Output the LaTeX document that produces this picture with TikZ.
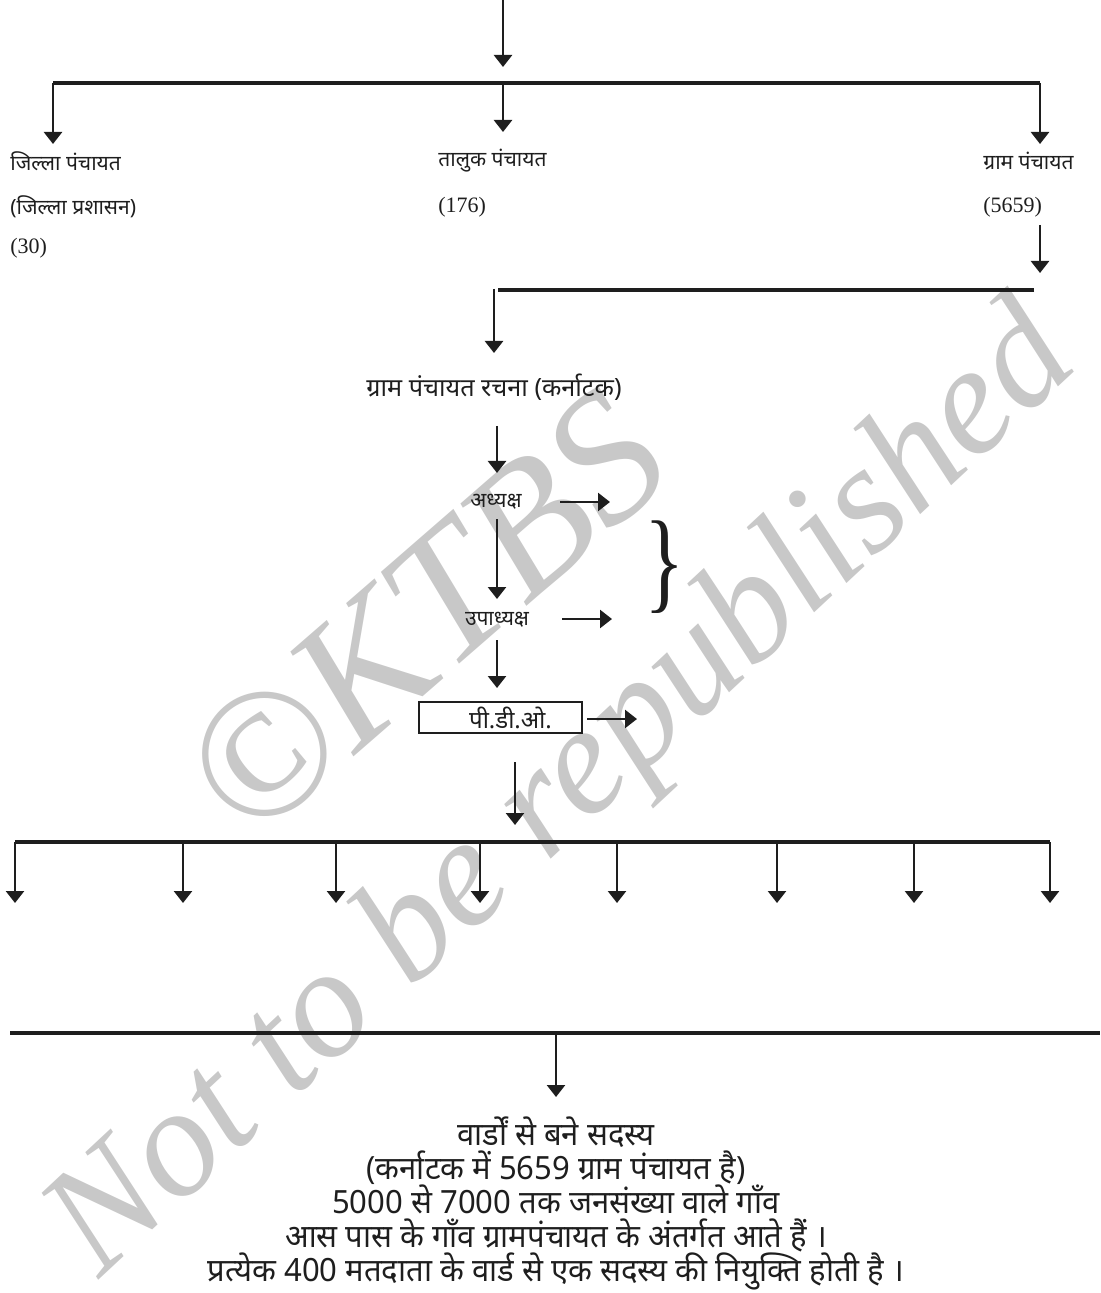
\documentclass[tikz,border=0pt]{standalone}
\usepackage{fontspec}
\setmainfont{Liberation Serif}
\newfontfamily\dev[Script=Devanagari]{Noto Sans}
\newfontfamily\devc[Script=Devanagari,FakeStretch=0.97]{Noto Sans}
\newfontfamily\wmfont{Liberation Serif}
\usetikzlibrary{arrows.meta}
\definecolor{wm}{RGB}{200,200,200}
\definecolor{ink}{RGB}{30,30,30}
\begin{document}
\begin{tikzpicture}[x=0.5pt,y=-0.5pt,
  ln/.style={line width=1.3pt,draw=ink},
  bar/.style={line width=1.6pt,draw=ink},
  arr/.style={ln,-{Triangle[length=6pt,width=9pt]}},
  lbl/.style={font=\dev\fontsize{10.5}{12}\selectfont,inner sep=0pt,text=ink},
  num/.style={font=\fontsize{11}{12}\selectfont,inner sep=0pt,text=ink},
  body/.style={font=\devc\fontsize{16}{17}\selectfont,inner sep=0pt,align=center,text=ink}]
\useasboundingbox (0,0) rectangle (1100,1293);
% watermark
\node[text=wm,font=\wmfont\itshape\fontsize{92}{92}\selectfont,rotate=41,inner sep=0pt] (wm1) at (425,615) {©KTBS};
\node[text=wm,font=\wmfont\itshape\fontsize{78}{78}\selectfont,rotate=43,inner sep=0pt] (wm2) at (565,795) {Not to be republished};
% top level
\coordinate (t0) at (503,0);
\coordinate (t1) at (503,67);
\draw[arr] (t0) -- (t1);
\coordinate (bl) at (53,83);
\coordinate (bm) at (503,83);
\coordinate (br) at (1040,83);
\draw[bar] (bl) -- (br);
\coordinate (al) at (53,144);
\coordinate (am) at (503,132);
\coordinate (ar) at (1040,144);
\draw[arr] (bl) -- (al);
\draw[arr] (bm) -- (am);
\draw[arr] (br) -- (ar);
\node[lbl,anchor=west] (z1) at (10,161) {जिल्ला पंचायत};
\node[lbl,anchor=west] (z2) at (10,207) {(जिल्ला प्रशासन)};
\node[num,anchor=west] (z3) at (10,248) {(30)};
\node[lbl,anchor=west] (k1) at (438,161) {तालुक पंचायत};
\node[num,anchor=west] (k2) at (438,207) {(176)};
\node[lbl,anchor=west] (g1) at (983,161) {ग्राम पंचायत};
\node[num,anchor=west] (g2) at (983,207) {(5659)};
% gram panchayat structure
\coordinate (g3) at (1040,225);
\coordinate (g4) at (1040,273);
\draw[arr] (g3) -- (g4);
\coordinate (c1) at (1034,290);
\coordinate (c2) at (498,290);
\draw[bar] (c1) -- (c2);
\coordinate (c3) at (494,289);
\coordinate (c4) at (494,353);
\draw[arr] (c3) -- (c4);
\node[lbl,font=\dev\fontsize{12.6}{14}\selectfont] (title) at (494,387) {ग्राम पंचायत रचना (कर्नाटक)};
\node[lbl] (adh) at (496,502) {अध्यक्ष};
\node[lbl] (upa) at (497,620) {उपाध्यक्ष};
\node[lbl,font=\dev\fontsize{12}{14}\selectfont,draw=ink,line width=1.1pt,minimum width=81.5pt,minimum height=15.5pt] (pdo) at (500.5,717.5) {\hspace*{10pt}पी.डी.ओ.};
\coordinate (d1) at (497,426);
\coordinate (d2) at (497,473);
\draw[arr] (d1) -- (d2);
\coordinate (d3) at (497,519);
\coordinate (d4) at (497,599);
\draw[arr] (d3) -- (d4);
\coordinate (d5) at (497,640);
\coordinate (d6) at (497,688);
\draw[arr] (d5) -- (d6);
\coordinate (r1) at (560,502);
\coordinate (r2) at (610,502);
\draw[arr] (r1) -- (r2);
\coordinate (r3) at (562,619);
\coordinate (r4) at (612,619);
\draw[arr] (r3) -- (r4);
\coordinate (r5) at (587,719);
\coordinate (r6) at (637,719);
\draw[arr] (r5) -- (r6);
\node[font=\wmfont\fontsize{56}{56}\selectfont,inner sep=0pt,xscale=0.75,transform shape,text=ink] (brace) at (665,567) {\}};
% wards
\coordinate (w0) at (515,762);
\coordinate (w1) at (515,825);
\draw[arr] (w0) -- (w1);
\coordinate (wl) at (15,842);
\coordinate (wr) at (1050,842);
\draw[bar] (wl) -- (wr);
\foreach \x [count=\i] in {15,183,336,480,617,777,914,1050}{
  \coordinate (wa\i) at (\x,842);
  \coordinate (wb\i) at (\x,903);
  \draw[arr] (wa\i) -- (wb\i);
}
\coordinate (m1) at (10,1033);
\coordinate (m2) at (1100,1033);
\draw[bar] (m1) -- (m2);
\coordinate (m3) at (556,1033);
\coordinate (m4) at (556,1097);
\draw[arr] (m3) -- (m4);
\node[body] (txt) at (556,1203) {वार्डों से बने सदस्य\\(कर्नाटक में 5659 ग्राम पंचायत है)\\5000 से 7000 तक जनसंख्या वाले गाँव\\आस पास के गाँव ग्रामपंचायत के अंतर्गत आते हैं ।\\प्रत्येक 400 मतदाता के वार्ड से एक सदस्य की नियुक्ति होती है ।};
\end{tikzpicture}
\end{document}
